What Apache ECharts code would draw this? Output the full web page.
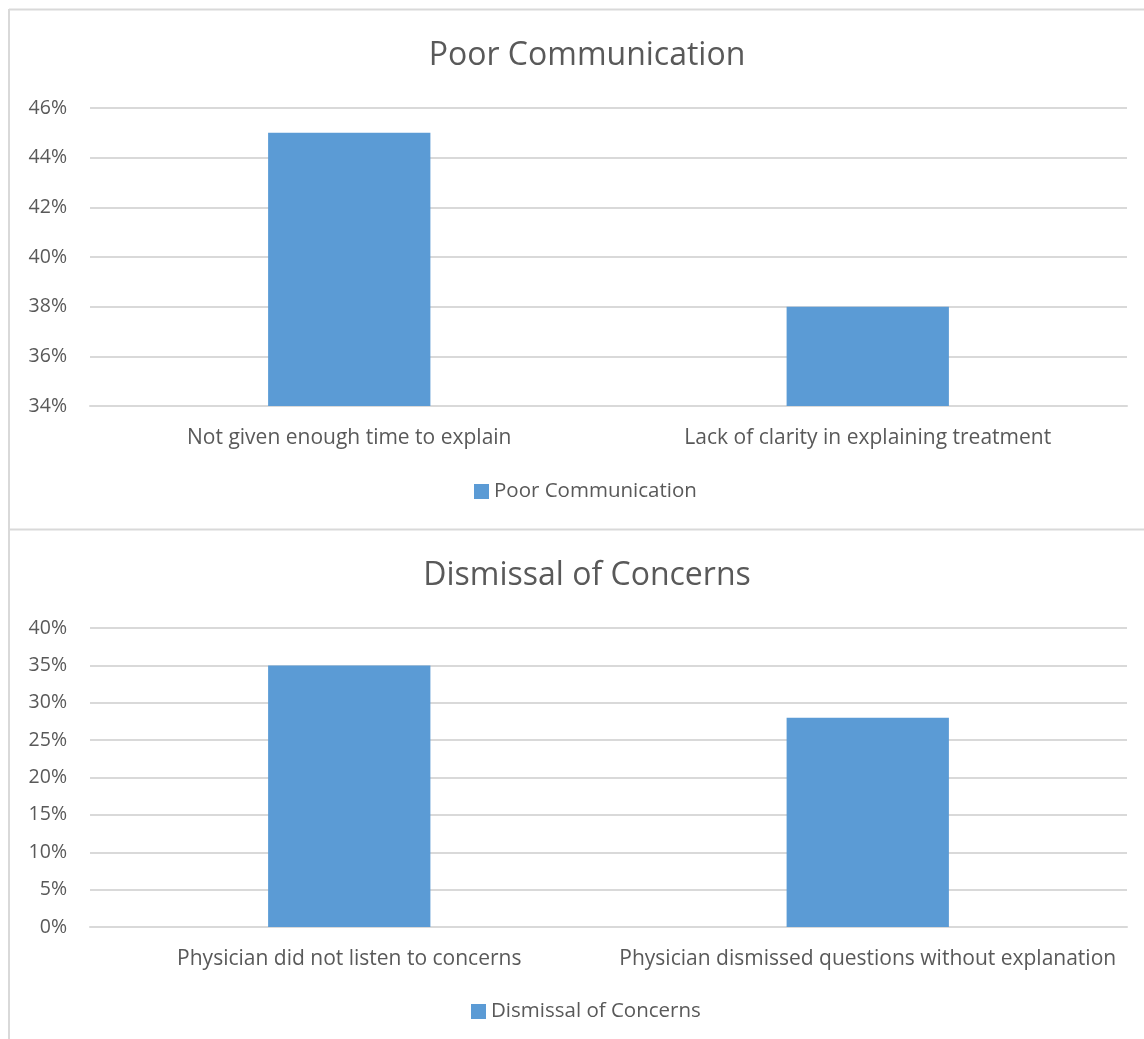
<!DOCTYPE html>
<html>
<head>
<meta charset="utf-8">
<script src="https://cdn.jsdelivr.net/npm/echarts@6/dist/echarts.min.js"></script>
<style>
  html, body { margin: 0; padding: 0; background: #fff; }
  #chart { width: 1144px; height: 1039px; }
</style>
</head>
<body>
<div id="chart"></div>
<script>
// data (values in percent)
const commTitle = 'Poor Communication'
const commCategories = ['Not given enough time to explain', 'Lack of clarity in explaining treatment']
const commValues = [45, 38]

const dismissTitle = 'Dismissal of Concerns'
const dismissCategories = ['Physician did not listen to concerns', 'Physician dismissed questions without explanation']
const dismissValues = [35, 28]

const textColor = '#595959'
const gridColor = '#d9d9d9'
const barColor = '#5b9bd5'
const font = 'Open Sans'

var chartDom = document.getElementById('chart');
var myChart = echarts.init(chartDom, null, {renderer: 'canvas'});

const catLabel = {color: textColor, fontSize: 21, fontFamily: font}
const valLabel = {color: textColor, fontSize: 19.5, fontFamily: font}

var option = {
  backgroundColor: '#fff',
  animation: false,
  graphic: [
    {type: 'line', shape: {x1: 9, y1: 9.5, x2: 1144, y2: 9.5}, style: {stroke: gridColor, lineWidth: 2}},
    {type: 'line', shape: {x1: 9, y1: 9, x2: 9, y2: 1039}, style: {stroke: gridColor, lineWidth: 2}},
    {type: 'line', shape: {x1: 9, y1: 529.5, x2: 1144, y2: 529.5}, style: {stroke: gridColor, lineWidth: 2}}
  ],
  title: [
    {text: commTitle, left: 582, top: 35, textAlign: 'center',
      textStyle: {color: textColor, fontSize: 32, fontWeight: 'normal', fontFamily: font}},
    {text: dismissTitle, left: 582, top: 555, textAlign: 'center',
      textStyle: {color: textColor, fontSize: 32, fontWeight: 'normal', fontFamily: font}}
  ],
  legend: [
    {data: [commTitle], left: 469, top: 476, itemWidth: 15, itemHeight: 15, icon: 'rect',
      textStyle: {color: textColor, fontSize: 20.5, fontFamily: font}},
    {data: [dismissTitle], left: 466, top: 996, itemWidth: 15, itemHeight: 15, icon: 'rect',
      textStyle: {color: textColor, fontSize: 20.5, fontFamily: font}}
  ],
  grid: [
    {left: 90, right: 17, top: 108, height: 298},
    {left: 90, right: 17, top: 628, height: 299}
  ],
  xAxis: [
    {type: 'category', gridIndex: 0, data: commCategories,
      axisLine: {lineStyle: {color: gridColor, width: 2}}, axisTick: {show: false},
      axisLabel: Object.assign({margin: 22, interval: 0, hideOverlap: false}, catLabel)},
    {type: 'category', gridIndex: 1, data: dismissCategories,
      axisLine: {lineStyle: {color: gridColor, width: 2}}, axisTick: {show: false},
      axisLabel: Object.assign({margin: 22, interval: 0, hideOverlap: false}, catLabel)}
  ],
  yAxis: [
    {type: 'value', gridIndex: 0, min: 34, max: 46, interval: 2,
      axisLine: {show: false}, axisTick: {show: false},
      splitLine: {lineStyle: {color: gridColor, width: 2}},
      axisLabel: Object.assign({margin: 23, formatter: '{value}%'}, valLabel)},
    {type: 'value', gridIndex: 1, min: 0, max: 40, interval: 5,
      axisLine: {show: false}, axisTick: {show: false},
      splitLine: {lineStyle: {color: gridColor, width: 2}},
      axisLabel: Object.assign({margin: 23, formatter: '{value}%'}, valLabel)}
  ],
  series: [
    {name: commTitle, type: 'bar', xAxisIndex: 0, yAxisIndex: 0, data: commValues,
      barWidth: '31.3%', itemStyle: {color: barColor}},
    {name: dismissTitle, type: 'bar', xAxisIndex: 1, yAxisIndex: 1, data: dismissValues,
      barWidth: '31.3%', itemStyle: {color: barColor}}
  ]
};
option && myChart.setOption(option);
</script>
</body>
</html>
